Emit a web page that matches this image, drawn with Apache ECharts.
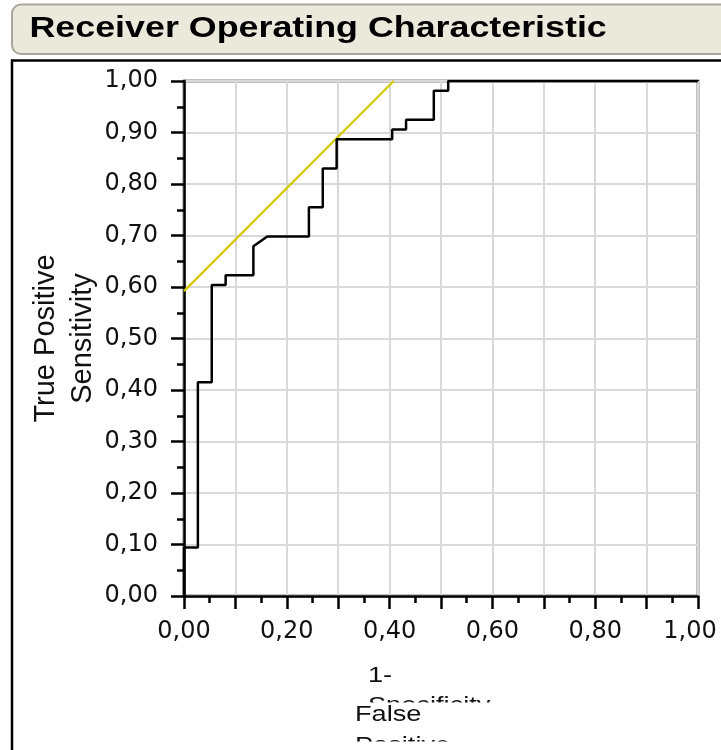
<!DOCTYPE html>
<html><head><meta charset="utf-8">
<script src="https://cdn.jsdelivr.net/npm/echarts@6/dist/echarts.min.js"></script>
<style>html,body{margin:0;padding:0;background:#fff;overflow:hidden;} #chart{width:721px;height:750px;}</style>
</head><body><div id="chart"></div>
<script>
// ROC step curve (1 - specificity, sensitivity)
const fprValues = [0, 0, 0.027, 0.027, 0.054, 0.054, 0.081, 0.081, 0.135, 0.135, 0.162, 0.243, 0.243, 0.270, 0.270, 0.297, 0.297, 0.405, 0.405, 0.432, 0.432, 0.486, 0.486, 0.514, 0.514, 1.0];
const tprValues = [0, 0.094, 0.094, 0.415, 0.415, 0.604, 0.604, 0.623, 0.623, 0.679, 0.698, 0.698, 0.755, 0.755, 0.830, 0.830, 0.887, 0.887, 0.906, 0.906, 0.925, 0.925, 0.981, 0.981, 1.0, 1.0];
// tangent (45 degree) reference line
const tangentX = [0, 0.408];
const tangentY = [0.592, 1.0];
// tick labels, one per 0.1 step
const yTickLabels = ['0,00','0,10','0,20','0,30','0,40','0,50','0,60','0,70','0,80','0,90','1,00'];
const xTickLabels = ['0,00','','0,20','','0,40','','0,60','','0,80','','1,00'];
const titleText = 'Receiver Operating Characteristic';
const yNameLines = ['True Positive', 'Sensitivity'];
const xNameA = ['1-', 'Specificity'];
const xNameB = ['False', 'Positive'];

const FONT = '"Liberation Sans", Arial, sans-serif';
const TICKFONT = '"DejaVu Sans", sans-serif';
const chart = echarts.init(document.getElementById('chart'), null, {renderer: 'canvas'});

const rocData = fprValues.map((x, i) => [x, tprValues[i]]);
const tanData = tangentX.map((x, i) => [x, tangentY[i]]);

function axisCommon(labels) {
  return {
    type: 'value', min: 0, max: 1, interval: 0.1,
    axisLine: {show: true, lineStyle: {color: '#000', width: 2.5}},
    axisTick: {show: true, length: 13, lineStyle: {color: '#000', width: 2.5}},
    minorTick: {show: true, splitNumber: 2, length: 7, lineStyle: {color: '#000', width: 2.5}},
    splitLine: {show: true, lineStyle: {color: '#d9d9d9', width: 2}},
    axisLabel: {
      color: '#111', fontFamily: TICKFONT, fontSize: 24,
      formatter: v => labels[Math.round(v * 10)] || ''
    }
  };
}

const xAxis = axisCommon(xTickLabels);
xAxis.axisLabel.margin = 24;
xAxis.axisLabel.formatter = v => {
  const i = Math.round(v * 10);
  const t = xTickLabels[i] || '';
  return (i === 10 && t) ? '{last|' + t + '}' : t;
};
xAxis.axisLabel.rich = {last: {fontFamily: TICKFONT, fontSize: 24, color: '#111', padding: [0, 16, 0, 0]}};

const yAxis = axisCommon(yTickLabels);
yAxis.axisLabel.margin = 26;
yAxis.name = yNameLines.join('\n');
yAxis.nameLocation = 'middle';
yAxis.nameGap = 83;
yAxis.nameMoveOverlap = false;
yAxis.nameTextStyle = {color: '#111', fontFamily: FONT, fontSize: 29, lineHeight: 37};

const SX = 1.235;

chart.setOption({
  animation: false,
  backgroundColor: '#fff',
  grid: {left: 184, top: 81, width: 514, height: 515, outerBoundsMode: 'none', containLabel: false,
         show: true, borderColor: '#000', borderWidth: 2.5, backgroundColor: '#fff'},
  xAxis: xAxis,
  yAxis: yAxis,
  series: [
    {type: 'line', data: tanData, showSymbol: false, lineStyle: {color: '#d4c800', width: 2.2}, z: 3},
    {type: 'line', data: rocData, showSymbol: false, lineStyle: {color: '#000', width: 2.5}, z: 4}
  ],
  graphic: [
    {type: 'rect', shape: {x: 12, y: 4.5, width: 760, height: 49.5, r: 9}, style: {fill: '#ebe8dc', stroke: '#a8a69c', lineWidth: 2}, z: 10},
    {type: 'text', x: 29.5, y: 29, scaleX: SX, style: {text: titleText, font: 'bold 29px ' + FONT, fill: '#000', verticalAlign: 'middle'}, z: 11},
    {type: 'polyline', shape: {points: [[12, 752], [12, 60.5], [725, 60.5]]}, style: {stroke: '#000', lineWidth: 2.5, fill: null}, z: 10},
    {type: 'text', x: 368, y: 661, scaleX: SX, style: {text: xNameA.join('\n'), font: '22px ' + FONT, fill: '#111', lineHeight: 30}, z: 10},
    {type: 'rect', shape: {x: 340, y: 702.5, width: 170, height: 34}, style: {fill: '#fff'}, z: 11},
    {type: 'text', x: 355, y: 699.5, scaleX: SX, style: {text: xNameB.join('\n'), font: '22px ' + FONT, fill: '#111', lineHeight: 31}, z: 12},
    {type: 'rect', shape: {x: 340, y: 741.5, width: 170, height: 10}, style: {fill: '#fff'}, z: 13}
  ]
});
</script></body></html>
